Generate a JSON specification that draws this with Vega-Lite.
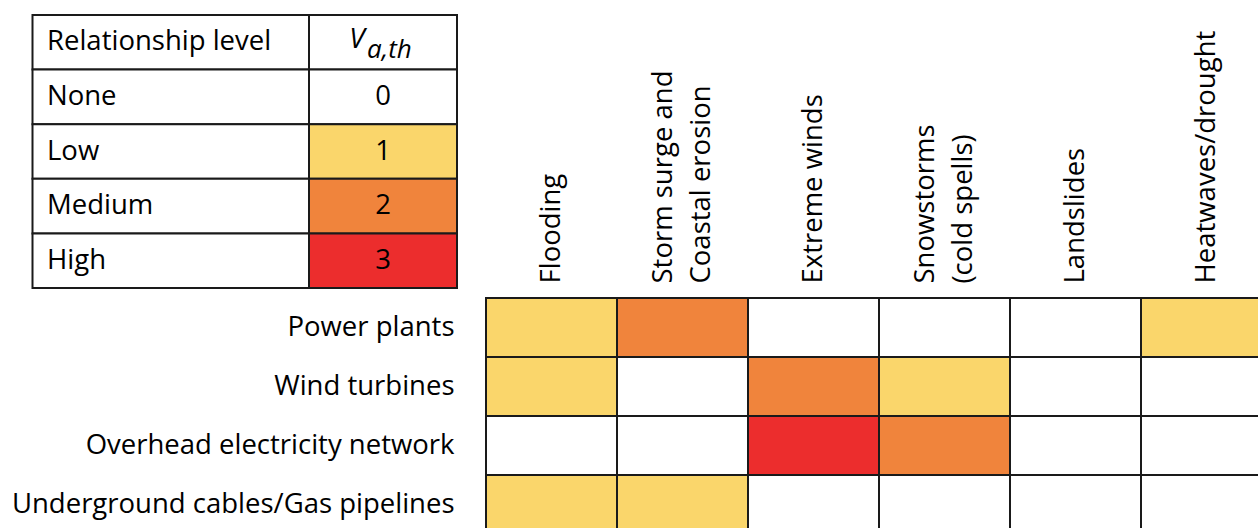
{
  "$schema": "https://vega.github.io/schema/vega-lite/v6.json",
  "width": 772,
  "height": 230,
  "autosize": {"type": "none"},
  "padding": {"left": 486, "top": 298, "right": 0, "bottom": 0},
  "background": "white",
  "config": {"view": {"stroke": null}, "font": "Open Sans", "text": {"font": "Open Sans", "color": "black"}},
  "datasets": {
    "grid": [
      {"asset": "Power plants", "hazard": "Flooding", "value": 1},
      {"asset": "Power plants", "hazard": "Storm surge and|Coastal erosion", "value": 2},
      {"asset": "Power plants", "hazard": "Extreme winds", "value": 0},
      {"asset": "Power plants", "hazard": "Snowstorms|(cold spells)", "value": 0},
      {"asset": "Power plants", "hazard": "Landslides", "value": 0},
      {"asset": "Power plants", "hazard": "Heatwaves/drought", "value": 1},
      {"asset": "Wind turbines", "hazard": "Flooding", "value": 1},
      {"asset": "Wind turbines", "hazard": "Storm surge and|Coastal erosion", "value": 0},
      {"asset": "Wind turbines", "hazard": "Extreme winds", "value": 2},
      {"asset": "Wind turbines", "hazard": "Snowstorms|(cold spells)", "value": 1},
      {"asset": "Wind turbines", "hazard": "Landslides", "value": 0},
      {"asset": "Wind turbines", "hazard": "Heatwaves/drought", "value": 0},
      {"asset": "Overhead electricity network", "hazard": "Flooding", "value": 0},
      {"asset": "Overhead electricity network", "hazard": "Storm surge and|Coastal erosion", "value": 0},
      {"asset": "Overhead electricity network", "hazard": "Extreme winds", "value": 3},
      {"asset": "Overhead electricity network", "hazard": "Snowstorms|(cold spells)", "value": 2},
      {"asset": "Overhead electricity network", "hazard": "Landslides", "value": 0},
      {"asset": "Overhead electricity network", "hazard": "Heatwaves/drought", "value": 0},
      {"asset": "Underground cables/Gas pipelines", "hazard": "Flooding", "value": 1},
      {"asset": "Underground cables/Gas pipelines", "hazard": "Storm surge and|Coastal erosion", "value": 1},
      {"asset": "Underground cables/Gas pipelines", "hazard": "Extreme winds", "value": 0},
      {"asset": "Underground cables/Gas pipelines", "hazard": "Snowstorms|(cold spells)", "value": 0},
      {"asset": "Underground cables/Gas pipelines", "hazard": "Landslides", "value": 0},
      {"asset": "Underground cables/Gas pipelines", "hazard": "Heatwaves/drought", "value": 0}
    ],
    "table": [
      {"level": "Relationship level", "value": null, "num": ""},
      {"level": "None", "value": 0, "num": "0"},
      {"level": "Low", "value": 1, "num": "1"},
      {"level": "Medium", "value": 2, "num": "2"},
      {"level": "High", "value": 3, "num": "3"}
    ]
  },
  "layer": [
    {
      "data": {"name": "grid"},
      "mark": {"type": "rect", "stroke": "#1a1a1a", "strokeWidth": 2},
      "encoding": {
        "x": {
          "field": "hazard", "type": "nominal",
          "sort": ["Flooding", "Storm surge and|Coastal erosion", "Extreme winds", "Snowstorms|(cold spells)", "Landslides", "Heatwaves/drought"],
          "scale": {"range": [0, 786], "paddingInner": 0, "paddingOuter": 0},
          "axis": {"orient": "top", "title": null, "domain": false, "ticks": false, "tickSize": 0, "grid": false,
                   "labelAngle": -90, "labelAlign": "left", "labelBaseline": "middle", "labelPadding": 15,
                   "labelFontSize": 27.5, "labelFont": "Open Sans", "labelColor": "black", "labelLimit": 0,
                   "labelLineHeight": 38,
                   "labelOffset": {"condition": {"test": "indexof(datum.value, '|') >= 0", "value": -19}, "value": 0},
                   "labelExpr": "split(datum.value, '|')"}
        },
        "y": {
          "field": "asset", "type": "nominal",
          "sort": ["Power plants", "Wind turbines", "Overhead electricity network", "Underground cables/Gas pipelines"],
          "scale": {"range": [0, 236], "paddingInner": 0, "paddingOuter": 0},
          "axis": {"title": null, "domain": false, "ticks": false, "tickSize": 0, "grid": false,
                   "labelPadding": 32, "labelFontSize": 27.5, "labelFont": "Open Sans", "labelColor": "black", "labelLimit": 0}
        },
        "fill": {"field": "value", "type": "ordinal", "scale": {"domain": [0, 1, 2, 3], "range": ["#FFFFFF", "#FAD66B", "#F0843C", "#EC2D2D"]}, "legend": null}
      }
    },
    {
      "data": {"name": "table"},
      "encoding": {
        "x": {"datum": "Relationship level", "type": "nominal", "scale": {"range": [-453.5, -177], "paddingInner": 0, "paddingOuter": 0}, "axis": null},
        "y": {"field": "level", "type": "nominal", "sort": null, "scale": {"range": [-283, -10], "paddingInner": 0, "paddingOuter": 0}, "axis": null}
      },
      "layer": [
        {"mark": {"type": "rect", "fill": "white", "stroke": "#1a1a1a", "strokeWidth": 2}},
        {"mark": {"type": "text", "align": "left", "baseline": "middle", "dx": 14.5, "fontSize": 27.5, "font": "Open Sans", "color": "black"},
         "encoding": {"x": {"datum": "Relationship level", "type": "nominal", "bandPosition": 0}, "text": {"field": "level"}}}
      ]
    },
    {
      "data": {"name": "table"},
      "encoding": {
        "x": {"datum": "V", "type": "nominal", "scale": {"range": [-177, -29], "paddingInner": 0, "paddingOuter": 0}, "axis": null},
        "y": {"field": "level", "type": "nominal", "sort": null, "scale": {"range": [-283, -10], "paddingInner": 0, "paddingOuter": 0}, "axis": null}
      },
      "layer": [
        {"mark": {"type": "rect", "stroke": "#1a1a1a", "strokeWidth": 2},
         "encoding": {"fill": {"condition": {"test": "datum.value === null", "value": "white"}, "field": "value", "type": "ordinal"}}},
        {"mark": {"type": "text", "align": "center", "baseline": "middle", "fontSize": 27.5, "font": "Open Sans", "color": "black"},
         "encoding": {"text": {"field": "num"}}},
        {"transform": [{"filter": "datum.value === null"}],
         "mark": {"type": "text", "text": "V", "align": "center", "baseline": "alphabetic", "dx": -26, "dy": 5.5, "fontSize": 28, "fontStyle": "italic", "font": "Open Sans", "color": "black"}},
        {"transform": [{"filter": "datum.value === null"}],
         "mark": {"type": "text", "text": "a,th", "align": "left", "baseline": "alphabetic", "dx": -16, "dy": 15.5, "fontSize": 26, "fontStyle": "italic", "font": "Open Sans", "color": "black"}}
      ]
    }
  ],
  "resolve": {"scale": {"x": "independent", "y": "independent"}}
}
